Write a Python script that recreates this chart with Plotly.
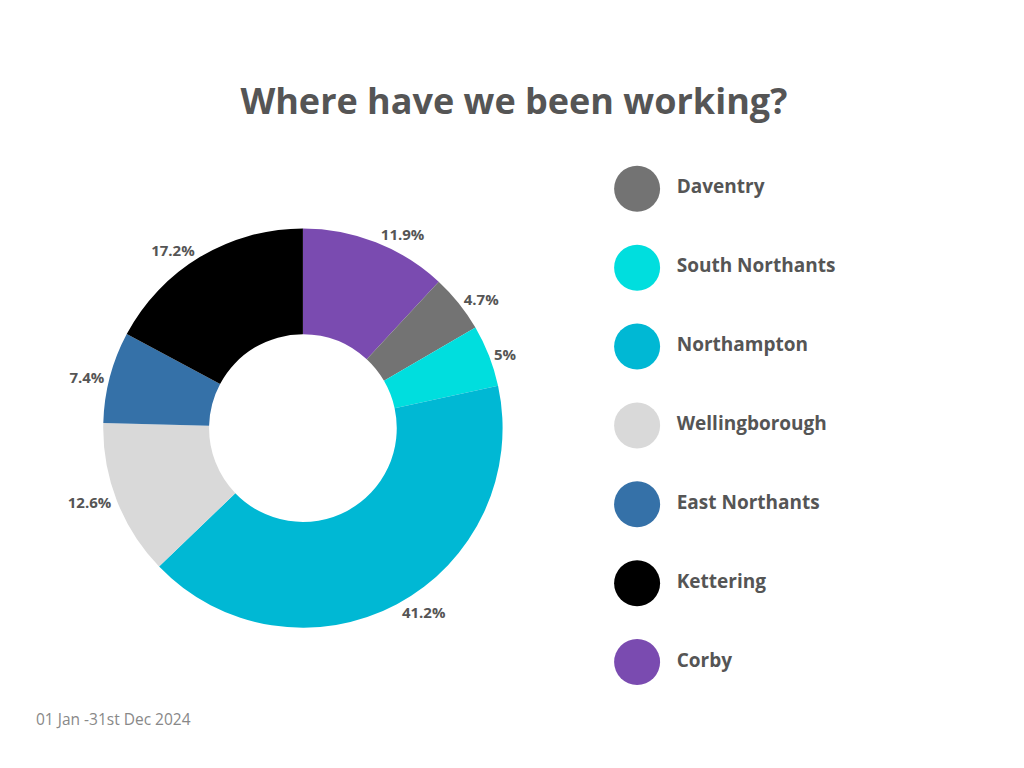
import plotly.graph_objects as go

areas = ["Corby", "Daventry", "South Northants", "Northampton",
         "Wellingborough", "East Northants", "Kettering"]
shares = [11.9, 4.7, 5, 41.2, 12.6, 7.4, 17.2]
colours = ["#7a4bb0", "#737373", "#00dede", "#00b8d4",
           "#d9d9d9", "#3571a8", "#000000"]

legend_order = ["Daventry", "South Northants", "Northampton", "Wellingborough",
                "East Northants", "Kettering", "Corby"]
legend_pos = list(range(len(legend_order)))[::-1]
legend_colours = [colours[areas.index(a)] for a in legend_order]

grey = "#555555"

fig = go.Figure()
fig.add_trace(go.Pie(
    labels=areas, values=shares, hole=0.47, sort=False, direction="clockwise",
    rotation=0, marker=dict(colors=colours),
    texttemplate="%{value}%", textposition="outside",
    textfont=dict(family="Open Sans", size=15, color=grey, weight="bold"),
    domain=dict(x=[0.0928, 0.4832], y=[0.193, 0.713]),
    showlegend=False, hoverinfo="label+percent",
))
fig.add_trace(go.Scatter(
    x=[0] * len(legend_order), y=legend_pos, mode="markers+text",
    text=["  " + a for a in legend_order], textposition="middle right",
    textfont=dict(family="Open Sans", size=19, color=grey, weight="bold"),
    marker=dict(size=46, color=legend_colours),
    showlegend=False, hoverinfo="skip", cliponaxis=False,
))
fig.update_layout(
    width=1024, height=768, paper_bgcolor="white", plot_bgcolor="white",
    margin=dict(l=0, r=0, t=0, b=0),
    title=dict(text="<b>Where have we been working?</b>", x=0.494, xanchor="center",
               y=0.879, yanchor="middle",
               font=dict(family="Open Sans", size=36, color=grey)),
    xaxis=dict(domain=[0.593, 0.943], range=[-0.065, 1], visible=False),
    yaxis=dict(domain=[0.097, 0.816], range=[-0.5, 6.5], visible=False),
    annotations=[dict(text="01 Jan -31st Dec 2024", x=26 / 1024, y=1 - 711 / 768,
                      xref="paper", yref="paper", xanchor="left", yanchor="middle",
                      showarrow=False,
                      font=dict(family="Open Sans", size=15.5, color="#888888"))],
)
fig.write_html("out.html")
